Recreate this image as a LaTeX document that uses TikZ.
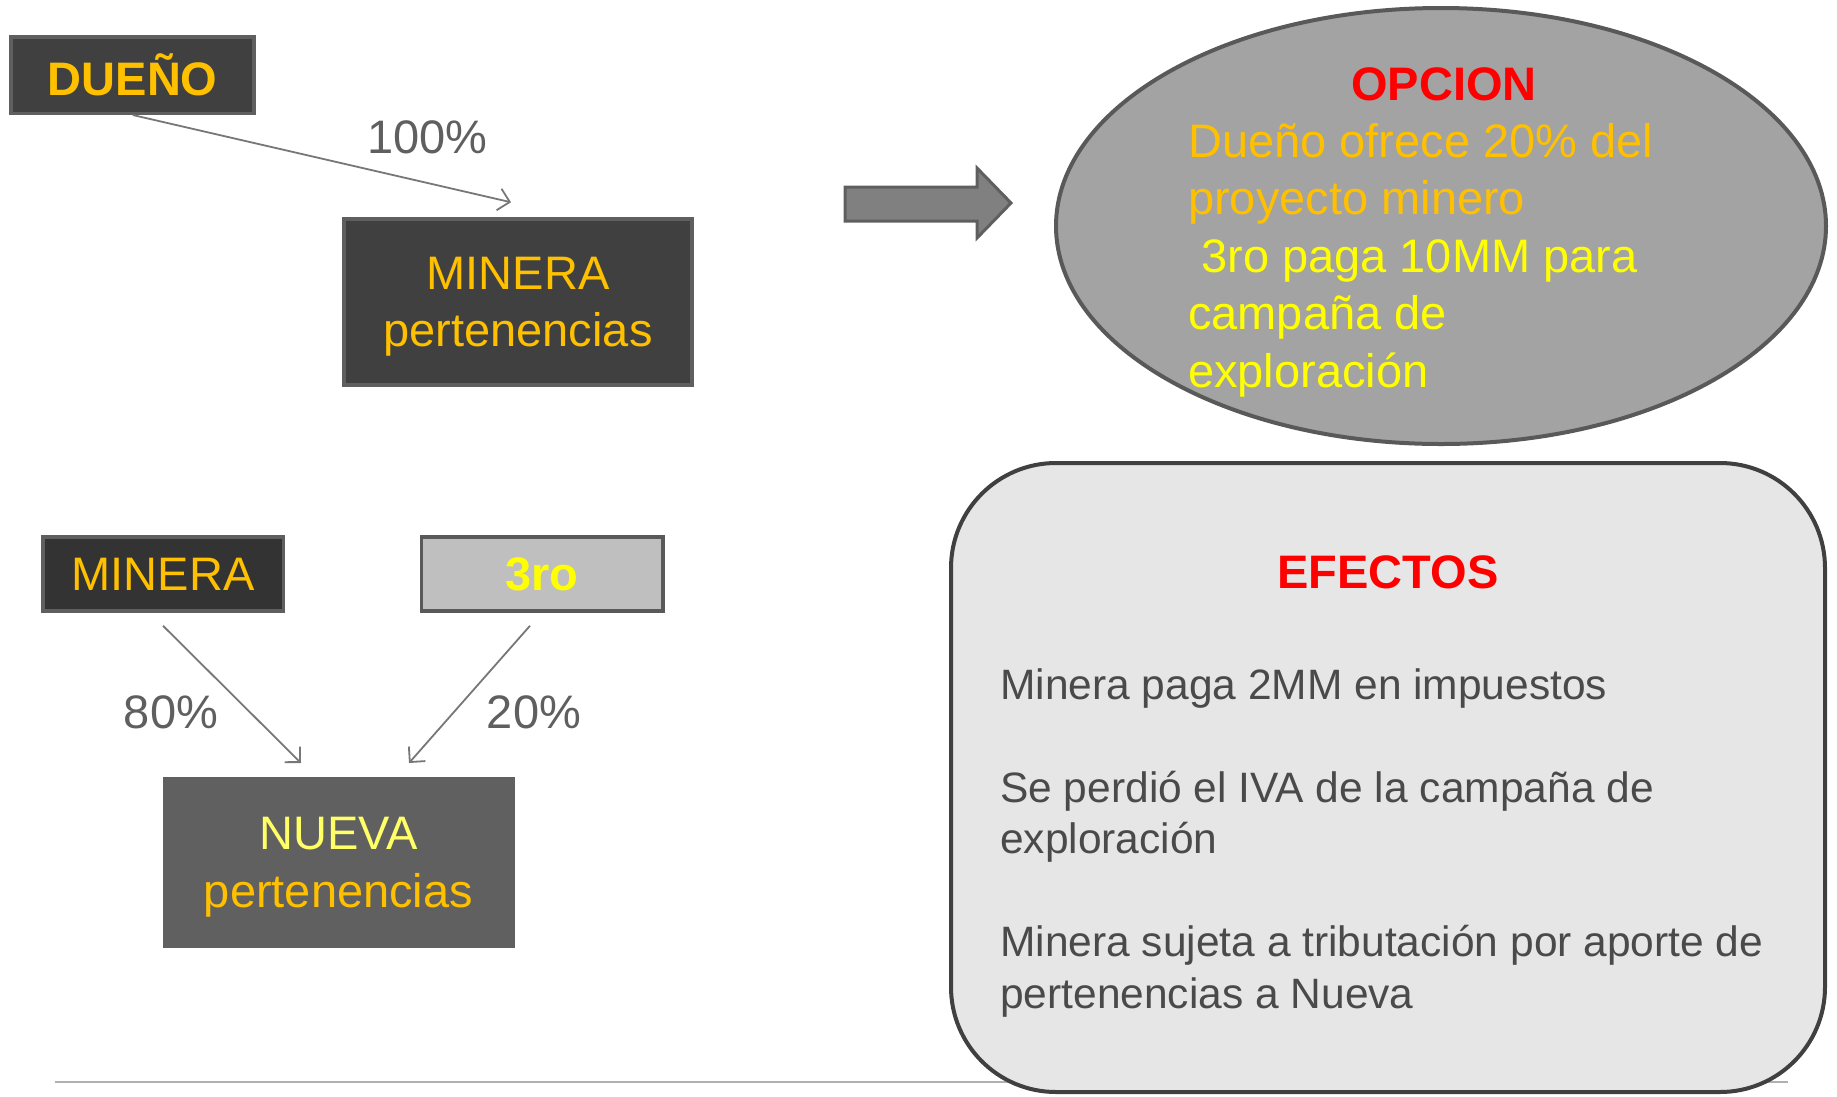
\documentclass[tikz,border=0pt]{standalone}
\usepackage{fontspec}
\setmainfont{Liberation Sans}
\usetikzlibrary{
  arrows.meta,
  shapes.geometric,
  positioning
}
\definecolor{boxdark}{HTML}{404040}
\definecolor{boxdarker}{HTML}{333333}
\definecolor{boxline}{HTML}{5F5F5F}
\definecolor{boxmid}{HTML}{606060}
\definecolor{boxlight}{HTML}{BFBFBF}
\definecolor{ovalfill}{HTML}{A3A3A3}
\definecolor{ovalline}{HTML}{595959}
\definecolor{notefill}{HTML}{E6E6E6}
\definecolor{noteline}{HTML}{404040}
\definecolor{gold}{HTML}{FFC000}
\definecolor{lemon}{HTML}{FFFF00}
\definecolor{paleyellow}{HTML}{FFFF66}
\definecolor{pctgray}{HTML}{5F5F5F}
\definecolor{notetext}{HTML}{4A4A4A}
\definecolor{arrowgray}{HTML}{777777}
\definecolor{blockfill}{HTML}{808080}
\definecolor{rulegray}{HTML}{B0B0B0}

\begin{document}
\begin{tikzpicture}[x=1pt,y=-1pt,
      bigfont/.style={font=\fontsize{47}{57.5}\selectfont},
      darkbox/.style={
         rectangle,
         draw=boxline,
         line width=3.5pt,
         fill=boxdark,
         inner sep=0pt,
         align=center,
         text=gold,
         bigfont
      },
      lightbox/.style={
         darkbox,
         draw=ovalline,
         fill=boxlight
      },
      pct/.style={bigfont, text=pctgray, inner sep=0pt},
      header/.style={font=\fontsize{47}{57.5}\selectfont\bfseries, text=red, inner sep=0pt},
      tip/.style={-{Straight Barb[length=11pt,width=22pt]}, draw=arrowgray, line width=1.8pt},
    ]
    \useasboundingbox (0,0) rectangle (1837,1096);

    % top row
    \node (n11) [darkbox, minimum width=243pt, minimum height=76.5pt] at (132.7,75) {\bfseries DUEÑO};
    \node (n12) [darkbox, minimum width=348pt, minimum height=166pt, text depth=0pt] at (518,302) {MINERA\\pertenencias};
    \node (p12) [pct] at (427.5,137) {100\%};
    \draw[tip] (n11.south) -- ([xshift=-7pt,yshift=15pt]n12.north);

    % block arrow
    \draw[fill=blockfill, draw=boxline, line width=3pt]
      (845,187) -- (977,187) -- (977,168) -- (1011,203) -- (977,238) -- (977,221) -- (845,221) -- cycle;

    % opcion
    \node (n13) [ellipse, draw=ovalline, line width=4pt, fill=ovalfill, inner sep=0pt,
                 minimum width=770pt, minimum height=436pt] at (1441,226) {};
    \node (h13) [header, anchor=base] at (1444,100) {OPCION};
    \node (t13) [bigfont, align=left, anchor=north west, inner sep=0pt] at (1188,123)
      {\textcolor{gold}{Dueño ofrece 20\% del}\\
       \textcolor{gold}{proyecto minero}\\
       \textcolor{lemon}{~3ro paga 10MM para}\\
       \textcolor{lemon}{campaña de}\\
       \textcolor{lemon}{exploración}};

    % bottom rule
    \draw[rulegray, line width=2pt] (55,1082) -- (1788,1082);

    % lower left
    \node (n31) [darkbox, fill=boxdarker, minimum width=240.5pt, minimum height=74pt] at (163,574) {MINERA};
    \node (n32) [lightbox, minimum width=241.5pt, minimum height=74pt] at (542,574) {\bfseries\textcolor{lemon}{3ro}};
    \node (n41) [darkbox, draw=boxmid, line width=1pt, fill=boxmid, minimum width=351pt, minimum height=170pt, text depth=0pt]
      at (338.5,862.5) {\textcolor{paleyellow}{NUEVA}\\pertenencias};
    \node (p31) [pct] at (171,712.5) {80\%};
    \node (p32) [pct] at (534,712) {20\%};
    \draw[tip] ([yshift=-13pt]n31.south) -- ([xshift=-37.5pt,yshift=14pt]n41.north);
    \draw[tip] ([xshift=-12pt,yshift=-13pt]n32.south) -- ([xshift=70.5pt,yshift=14pt]n41.north);

    % efectos
    \node (n23) [rectangle, rounded corners=105pt, draw=noteline, line width=4pt, fill=notefill,
                 minimum width=874pt, minimum height=629pt, inner sep=0pt] at (1388,777.5) {};
    \node (h23) [header, anchor=base] at (1388,588) {EFECTOS};
    \node (t23) [font=\fontsize{42.5}{51.5}\selectfont, text=notetext, align=left, anchor=north west, inner sep=0pt]
      at (1000,668)
      {Minera paga 2MM en impuestos\\[51.5pt]
       Se perdió el IVA de la campaña de\\
       exploración\\[51.5pt]
       Minera sujeta a tributación por aporte de\\
       pertenencias a Nueva};
\end{tikzpicture}
\end{document}
